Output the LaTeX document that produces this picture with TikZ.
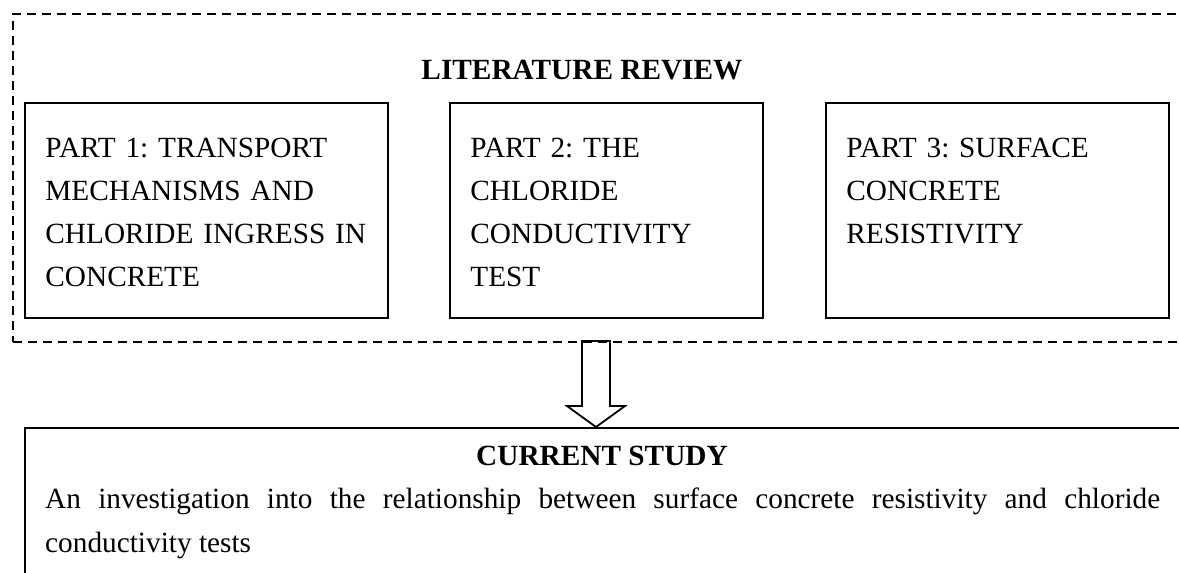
\documentclass[tikz,border=0pt]{standalone}
\usepackage{fontspec}
\setmainfont{Liberation Serif}
\frenchspacing
\tikzset{
  frame/.style={draw, line width=1.8pt, anchor=north west, inner sep=0pt},
  partbox/.style={draw, line width=1.8pt, anchor=north west, align=left,
    font=\fontsize{29.3}{43}\selectfont, inner xsep=20.5pt, inner ysep=35pt,
    text height=20pt, text depth=125pt},
  heading/.style={anchor=base, inner sep=0pt, font=\fontsize{29.3}{43}\selectfont\bfseries},
  bodytext/.style={anchor=base west, inner sep=0pt, align=justify,
    font=\fontsize{29.3}{44}\selectfont},
  arrowline/.style={draw, line width=1.8pt, line join=miter}
}
\begin{document}
\begin{tikzpicture}[x=1pt,y=-1pt]
  \useasboundingbox (0,0) rectangle (1179,573);
  \node[frame, dash pattern=on 9pt off 6pt, line width=1.5pt,
    minimum width=1250pt, minimum height=328pt] (review) at (12,13) {};
  \node[heading] (revtitle) at (582,79) {LITERATURE REVIEW};
  \node[partbox, text width=322pt] (part1) at (24,102)
    {PART 1: TRANSPORT\\ MECHANISMS AND\\ \mbox{CHLORIDE INGRESS IN}\\ CONCRETE};
  \node[partbox, text width=272pt] (part2) at (449,102)
    {PART 2: THE\\ CHLORIDE\\ CONDUCTIVITY\\ TEST};
  \node[partbox, text width=302pt] (part3) at (825,102)
    {PART 3: SURFACE\\ CONCRETE\\ RESISTIVITY};
  \node[frame, minimum width=1250pt, minimum height=300pt] (study) at (24,427) {};
  \node[heading] (studytitle) at (602,465) {CURRENT STUDY};
  \node[bodytext, text width=1115pt] (studytext) at (45,508)
    {An investigation into the relationship between surface concrete resistivity and chloride\linebreak conductivity tests};
  \coordinate (tail) at (596,341);
  \coordinate (tip) at (596,427);
  \draw[arrowline] ([xshift=-14pt]tail) -- ++(0,65) -- ++(-15,0) -- (tip)
    -- ++(29,-21) -- ++(-15,0) -- ([xshift=14pt]tail) -- cycle;
\end{tikzpicture}
\end{document}
